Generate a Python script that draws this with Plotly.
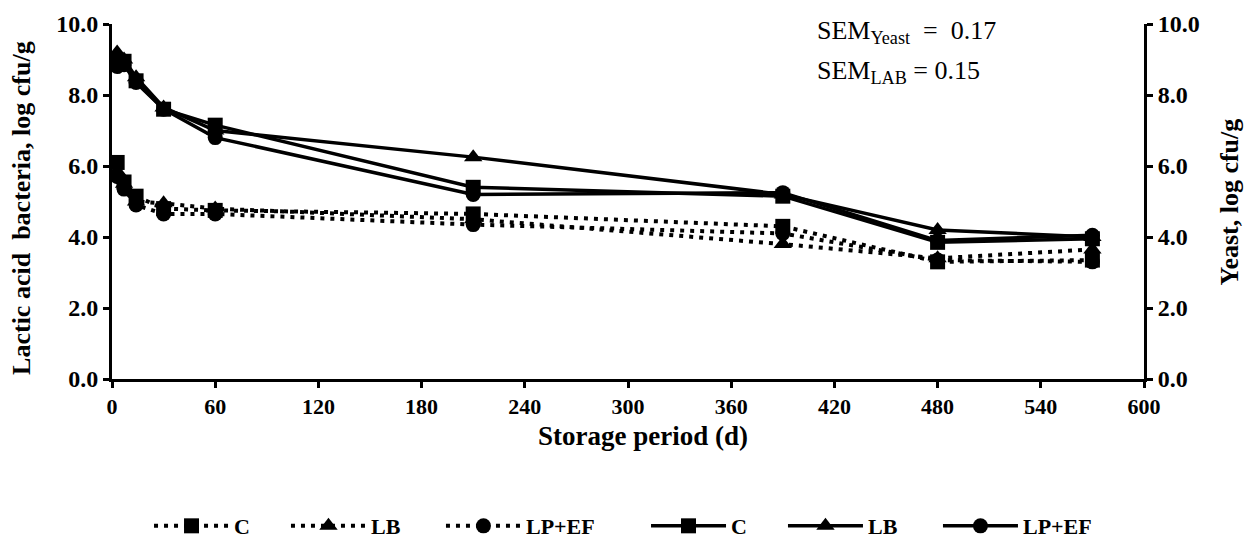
import plotly.graph_objects as go

days = [3, 7, 14, 30, 60, 210, 390, 480, 570]

# Lactic acid bacteria (solid lines, left axis)
lab_c = [8.9, 8.95, 8.4, 7.6, 7.15, 5.4, 5.15, 3.85, 3.95]
lab_lb = [9.2, 9.0, 8.5, 7.65, 7.0, 6.25, 5.2, 4.2, 4.0]
lab_lpef = [8.8, 8.85, 8.35, 7.6, 6.8, 5.2, 5.25, 3.9, 4.05]

# Yeast (dotted lines, right axis)
yeast_c = [6.1, 5.55, 5.15, 4.8, 4.75, 4.65, 4.3, 3.3, 3.35]
yeast_lb = [5.85, 5.5, 5.0, 4.95, 4.8, 4.5, 3.8, 3.4, 3.65]
yeast_lpef = [5.7, 5.35, 4.9, 4.65, 4.65, 4.35, 4.1, 3.35, 3.3]

names = ["C", "LB", "LP+EF"]
symbols = ["square", "triangle-up", "circle"]
msizes = [15, 16, 15]

FONT = "Liberation Serif, Times New Roman, serif"
fig = go.Figure()

legend_ids = ["legend", "legend2", "legend3", "legend4", "legend5", "legend6"]
legend_x = [0.1141, 0.2249, 0.3503, 0.5162, 0.6270, 0.7524]

for i, (name, sym, ms, vals) in enumerate(zip(names, symbols, msizes, [yeast_c, yeast_lb, yeast_lpef])):
    fig.add_trace(go.Scatter(
        x=days, y=vals, name=name, mode="lines+markers", yaxis="y2",
        legend=legend_ids[i],
        line=dict(color="black", width=4, dash="4px,6px"),
        marker=dict(symbol=sym, size=ms, color="black"),
    ))

for i, (name, sym, ms, vals) in enumerate(zip(names, symbols, msizes, [lab_c, lab_lb, lab_lpef])):
    fig.add_trace(go.Scatter(
        x=days, y=vals, name=name, mode="lines+markers",
        legend=legend_ids[i + 3],
        line=dict(color="black", width=3.5),
        marker=dict(symbol=sym, size=ms, color="black"),
    ))

ytick = dict(family=FONT, size=24, color="black", weight="bold")
xtick = dict(family=FONT, size=22, color="black", weight="bold")
common = dict(showgrid=False, zeroline=False, showline=True, linecolor="black", linewidth=3,
              ticks="outside", ticklen=6, tickwidth=2.5, tickcolor="black",
              ticklabeloverflow="allow", automargin=False)

legend_common = dict(orientation="h", xref="container", yref="container",
                     xanchor="left", y=0.0226, yanchor="middle",
                     font=dict(family=FONT, size=22, color="black", weight="bold"),
                     itemwidth=75, bgcolor="rgba(0,0,0,0)")
legends = {}
for lid, lx in zip(legend_ids, legend_x):
    legends[lid] = dict(x=lx, **legend_common)

fig.update_layout(
    width=1236, height=530,
    margin=dict(l=104, r=100, t=16, b=159, autoexpand=False),
    paper_bgcolor="white", plot_bgcolor="white",
    font=dict(family=FONT, color="black"),
    showlegend=True,
    xaxis=dict(range=[0, 600], dtick=60, tick0=0, tickfont=xtick, **common),
    yaxis=dict(range=[0, 10], dtick=2, tickformat=".1f", tickfont=ytick, **common),
    yaxis2=dict(range=[0, 10], dtick=2, tickformat=".1f", overlaying="y", side="right",
                tickfont=ytick, **common),
    annotations=[
        dict(text="Storage period (d)", xref="paper", yref="paper",
             x=0.515, y=-0.161, xanchor="center", yanchor="middle", showarrow=False,
             font=dict(family=FONT, size=27, color="black", weight="bold")),
        dict(text="Lactic acid\u00a0 bacteria, log cfu/g", xref="paper", yref="paper",
             x=-0.0872, y=0.482, xanchor="center", yanchor="middle", showarrow=False,
             textangle=-90,
             font=dict(family=FONT, size=26, color="black", weight="bold")),
        dict(text="Yeast, log cfu/g", xref="paper", yref="paper",
             x=1.083, y=0.499, xanchor="center", yanchor="middle", showarrow=False,
             textangle=-90,
             font=dict(family=FONT, size=26, color="black", weight="bold")),
        dict(text="SEM<sub>Yeast</sub>  =  0.17", xref="paper", yref="paper",
             x=0.681, y=0.977, xanchor="left", yanchor="middle", showarrow=False,
             font=dict(family=FONT, size=26, color="black")),
        dict(text="SEM<sub>LAB</sub> = 0.15", xref="paper", yref="paper",
             x=0.681, y=0.865, xanchor="left", yanchor="middle", showarrow=False,
             font=dict(family=FONT, size=26, color="black")),
    ],
    **legends,
)

fig.write_html("out.html")
